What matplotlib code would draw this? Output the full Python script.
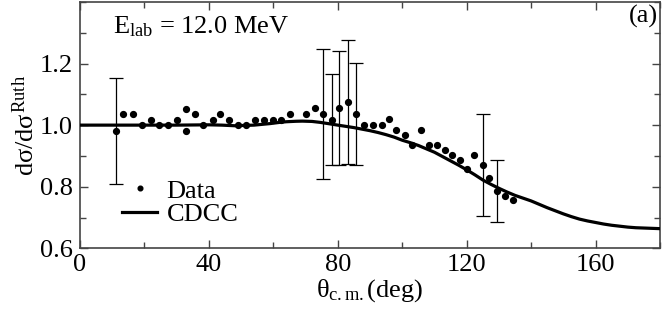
import numpy as np
import matplotlib
matplotlib.use("Agg")
import matplotlib.pyplot as plt
from matplotlib.ticker import MultipleLocator

plt.rcParams['font.family'] = ['Liberation Serif', 'DejaVu Serif']
plt.rcParams['mathtext.fontset'] = 'custom'
plt.rcParams['mathtext.rm'] = 'Liberation Serif'
plt.rcParams['mathtext.it'] = 'Liberation Serif'
plt.rcParams['mathtext.bf'] = 'Liberation Serif:bold'

# experimental data
theta_data = [11.2, 13.4, 16.5, 19.3, 21.9, 24.5, 27.4, 30.1, 32.8, 33.0, 35.6,
              38.3, 41.2, 43.5, 46.3, 49.1, 51.5, 54.2, 57.1, 59.8, 62.4, 65.3,
              70.2, 72.8, 75.5, 78.1, 80.5, 83.1, 85.7, 88.0, 90.8, 93.6, 95.8,
              98.2, 100.8, 103.1, 105.7, 108.4, 110.8, 113.2, 115.5, 117.9,
              120.1, 122.4, 125.0, 127.0, 129.5, 131.9, 134.5]
ratio_data = [0.982, 1.035, 1.035, 1.001, 1.016, 1.001, 1.001, 1.016, 1.053, 0.980,
              1.035, 1.001, 1.016, 1.035, 1.016, 1.001, 1.001, 1.018, 1.018, 1.018,
              1.018, 1.036, 1.036, 1.055, 1.036, 1.018, 1.055, 1.075, 1.036, 1.001,
              1.001, 1.001, 1.019, 0.984, 0.968, 0.934, 0.984, 0.934, 0.934, 0.918,
              0.903, 0.886, 0.856, 0.903, 0.871, 0.827, 0.785, 0.771, 0.756]

# points with error bars
theta_err = [11.2, 75.5, 78.1, 80.5, 83.1, 85.7, 125.0, 129.5]
ratio_err = [0.982, 1.036, 1.018, 1.055, 1.075, 1.036, 0.871, 0.785]
sigma_err = [0.172, 0.211, 0.149, 0.184, 0.202, 0.167, 0.165, 0.101]

# CDCC calculation
theta_cdcc = [0, 10, 20, 30, 40, 44, 48, 51, 54, 57, 59, 62, 64, 67, 69, 72,
              74.5, 77, 80, 82.5, 85, 87.5, 90, 92.5, 95, 97.5, 100, 102.5, 105,
              107.5, 110, 112.5, 115, 117.5, 120, 122.5, 125, 127.5, 130, 132.5,
              135, 137.5, 140, 142.5, 145, 147.5, 150, 152.5, 155, 157.5, 160,
              162.5, 165, 167.5, 170, 172.5, 175, 177.5, 180]
ratio_cdcc = [1.0, 1.0, 1.0, 1.0, 1.001, 1.0, 0.998, 0.999, 1.0, 1.003, 1.005,
              1.009, 1.011, 1.0125, 1.013, 1.012, 1.009, 1.005, 1.0, 0.996,
              0.992, 0.987, 0.982, 0.976, 0.969, 0.961, 0.951, 0.943, 0.934,
              0.923, 0.912, 0.898, 0.884, 0.870, 0.855, 0.839, 0.822, 0.808,
              0.795, 0.783, 0.772, 0.763, 0.754, 0.743, 0.732, 0.722, 0.712,
              0.703, 0.695, 0.689, 0.684, 0.679, 0.675, 0.672, 0.669, 0.667,
              0.666, 0.665, 0.664]

fig = plt.figure(figsize=(6.64, 3.14), dpi=100)
ax = fig.add_axes([0.1205, 0.209, 0.8735, 0.785])

ax.errorbar(theta_err, ratio_err, yerr=sigma_err, fmt='none', ecolor='black',
            elinewidth=0.9, capsize=5.2, capthick=0.9, zorder=2)
ax.plot(theta_data, ratio_data, 'o', color='black', ms=4.2, label='Data', zorder=3)
ax.plot(theta_cdcc, ratio_cdcc, '-', color='black', lw=2.3, label='CDCC',
        solid_joinstyle='round', zorder=4)

ax.set_xlim(0, 180)
ax.set_ylim(0.6, 1.4)
ax.xaxis.set_major_locator(MultipleLocator(40))
ax.xaxis.set_minor_locator(MultipleLocator(20))
ax.yaxis.set_minor_locator(MultipleLocator(0.1))
ax.set_yticks([0.6, 0.8, 1.0, 1.2])
ax.set_yticklabels(['0.6', '0.8', '1.0', '1.2'])

for s in ax.spines.values():
    s.set_color('#444444')
    s.set_linewidth(1.2)
ax.tick_params(which='both', direction='in', top=True, right=True,
               color='#444444', labelsize=19)
ax.tick_params(which='major', length=6, width=1.0)
ax.tick_params(which='minor', length=4, width=1.0)
ax.tick_params(axis='y', pad=5)
ax.tick_params(axis='x', pad=4)

ax.set_xlabel(r'$\theta_{\rm c.m.}$(deg)', fontsize=19, labelpad=1)
ax.set_ylabel(r'd$\sigma$/d$\sigma^{\rm Ruth}$', fontsize=19, labelpad=1)

ax.text(0.057, 0.874, r'E$_{\rm lab}$ = 12.0 MeV', transform=ax.transAxes,
        fontsize=19, va='baseline', ha='left')
ax.text(0.996, 0.915, '(a)', transform=ax.transAxes, fontsize=19,
        va='baseline', ha='right')

leg = ax.legend(loc='lower left', bbox_to_anchor=(0.072, 0.09), frameon=False,
                fontsize=19, handlelength=1.35, handletextpad=0.35,
                labelspacing=0.0, borderpad=0, borderaxespad=0, markerscale=0.8)

fig.savefig('out.png', dpi=100)
